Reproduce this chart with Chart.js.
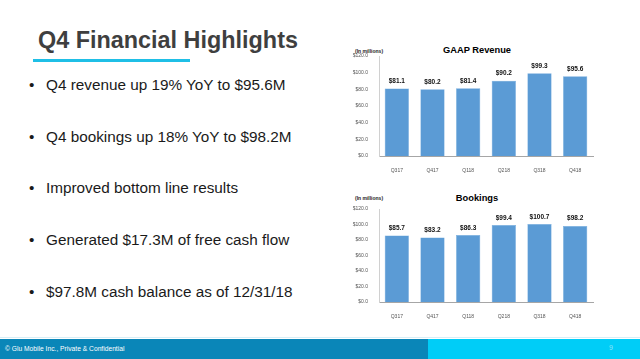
<!DOCTYPE html>
<html><head><meta charset="utf-8">
<script src="https://cdn.jsdelivr.net/npm/chart.js@4.4.1/dist/chart.umd.min.js"></script>
<style>
html,body{margin:0;padding:0;background:#fff;width:640px;height:359px;overflow:hidden;font-family:"Liberation Sans",Arial,sans-serif;}
.abs{position:absolute;white-space:nowrap;}
#title{left:38px;top:27px;font-size:23.4px;font-weight:bold;color:#3f3f3f;}
#uline{left:33px;top:59px;width:157px;height:3px;background:#1fbfe6;}
.bul{left:29px;font-size:15.3px;color:#1a1a1a;}
.bul span{display:inline-block;width:17px;}
.ctitle{font-size:9.3px;font-weight:bold;color:#000;transform:translateX(-50%);}
.inm{font-size:5px;font-weight:bold;color:#222;}
#foot1{left:0;top:339px;width:428px;height:20px;background:#0a86b8;}
#foot2{left:428px;top:339px;width:212px;height:20px;background:#00cdf7;}
#fline{left:0;top:337px;width:640px;height:1px;background:#d6eef6;}
#ftext{left:5px;top:345px;font-size:6.7px;color:#fff;}
#pnum{left:609px;top:344px;font-size:7px;color:#8fe3f7;}
.cw{position:absolute;}
</style></head>
<body>
<div class="abs" id="title">Q4 Financial Highlights</div>
<div class="abs" id="uline"></div>
<div class="abs bul" style="top:76px"><span>•</span>Q4 revenue up 19% YoY to $95.6M</div>
<div class="abs bul" style="top:128px"><span>•</span>Q4 bookings up 18% YoY to $98.2M</div>
<div class="abs bul" style="top:179px"><span>•</span>Improved bottom line results</div>
<div class="abs bul" style="top:231px"><span>•</span>Generated $17.3M of free cash flow</div>
<div class="abs bul" style="top:283px"><span>•</span>$97.8M cash balance as of 12/31/18</div>

<div class="abs ctitle" style="left:477px;top:45px">GAAP Revenue</div>
<div class="abs inm" style="left:355px;top:48px">(In millions)</div>
<div class="abs ctitle" style="left:477px;top:193px">Bookings</div>
<div class="abs inm" style="left:355px;top:195px">(In millions)</div>

<div class="cw" style="left:340px;top:40px;width:280px;height:135px"><canvas id="c1"></canvas></div>
<div class="cw" style="left:340px;top:185px;width:280px;height:135px"><canvas id="c2"></canvas></div>

<div class="abs" id="fline"></div>
<div class="abs" id="foot1"></div>
<div class="abs" id="foot2"></div>
<div class="abs" id="ftext">© Glu Mobile Inc., Private &amp; Confidential</div>
<div class="abs" id="pnum">9</div>

<script>
const categories = ["Q317","Q417","Q118","Q218","Q318","Q418"];
const revenue = [81.1, 80.2, 81.4, 90.2, 99.3, 95.6];
const bookings = [85.7, 83.2, 86.3, 99.4, 100.7, 98.2];
const yTicks = [0, 20, 40, 60, 80, 100, 120];

const FONT = '"Liberation Sans", Arial, sans-serif';
const valueLabels = {
  id: 'valueLabels',
  afterDatasetsDraw(chart) {
    const ctx = chart.ctx;
    const meta = chart.getDatasetMeta(0);
    const data = chart.data.datasets[0].data;
    ctx.save();
    ctx.font = 'bold 6.5px ' + FONT;
    ctx.fillStyle = '#111';
    ctx.textAlign = 'center';
    ctx.textBaseline = 'bottom';
    meta.data.forEach((bar, i) => {
      ctx.fillText('$' + data[i].toFixed(1), bar.x, bar.y - 4);
    });
    ctx.restore();
  }
};

function makeChart(id, values, padTop, xH) {
  return new Chart(document.getElementById(id), {
    type: 'bar',
    data: {
      labels: categories,
      datasets: [{
        data: values,
        backgroundColor: '#5b9bd5',
        borderColor: '#6aa6dc',
        borderWidth: 0.5,
        barPercentage: 0.68,
        categoryPercentage: 1
      }]
    },
    options: {
      responsive: true,
      maintainAspectRatio: false,
      animation: false,
      layout: { padding: { top: padTop, right: 27, left: 0, bottom: 0 } },
      plugins: { legend: { display: false }, tooltip: { enabled: false } },
      scales: {
        x: {
          grid: { display: false },
          border: { display: true, color: '#a6a6a6', width: 1 },
          ticks: { font: { size: 5, family: FONT }, color: '#555', padding: 4, maxRotation: 0 },
          afterFit(s) { s.height = xH; }
        },
        y: {
          min: 0, max: 120,
          afterBuildTicks(s) { s.ticks = yTicks.map(v => ({ value: v })); },
          grid: { display: false },
          border: { display: true, color: '#d0d0d0', width: 1 },
          ticks: {
            font: { size: 5, family: FONT }, color: '#555', padding: 3,
            callback: v => '$' + Number(v).toFixed(1)
          },
          afterFit(s) { s.width = 39; }
        }
      }
    },
    plugins: [valueLabels]
  });
}
makeChart('c1', revenue, 16, 19);
makeChart('c2', bookings, 24, 18);
</script>
</body></html>
